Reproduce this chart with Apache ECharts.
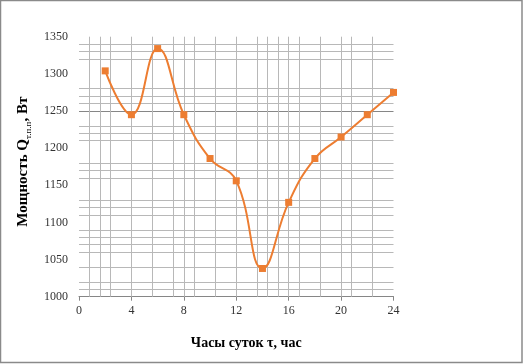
<!DOCTYPE html>
<html>
<head>
<meta charset="utf-8">
<script src="https://cdn.jsdelivr.net/npm/echarts@6/dist/echarts.min.js"></script>
<style>
html,body{margin:0;padding:0;background:#fff;}
#c{width:524px;height:364px;}
</style>
</head>
<body>
<div id="c"></div>
<script>
// Data
var hours = [2, 4, 6, 8, 10, 12, 14, 16, 18, 20, 22, 24];
var power = [1304, 1245, 1334, 1245, 1186, 1156, 1038, 1127, 1186, 1215, 1245, 1275];
// Minor gridlines as they appear in the picture
var hGrid = [1010, 1020, 1040, 1060, 1070, 1080, 1090, 1110, 1120, 1130, 1160, 1170, 1180,
             1210, 1220, 1230, 1260, 1270, 1280, 1320, 1330, 1340];
var hGridDark = [1250];
var vGrid = [0.8, 1.6, 2.4, 4, 5.6, 7.2, 8, 8.8, 10.4, 12, 13.6, 14.4, 15.2, 16, 16.8, 18.4,
             20, 20.8, 22.4];
var xTitle = 'Часы суток τ, час';

var chart = echarts.init(document.getElementById('c'), null, {renderer: 'canvas'});
var font = '"Liberation Serif", "Times New Roman", serif';

var gridLines = [];
hGrid.forEach(function (v) { gridLines.push({yAxis: v, lineStyle: {color: '#b8b8b8', width: 1, type: 'solid'}}); });
hGridDark.forEach(function (v) { gridLines.push({yAxis: v, lineStyle: {color: '#868686', width: 1, type: 'solid'}}); });
vGrid.forEach(function (v) { gridLines.push({xAxis: v, lineStyle: {color: '#b8b8b8', width: 1, type: 'solid'}}); });

chart.setOption({
  animation: false,
  backgroundColor: '#fff',
  grid: {left: 79, right: 130.5, top: 36.7, bottom: 67.3, containLabel: false},
  graphic: [{
    type: 'rect', silent: true, z: 100,
    shape: {x: 0.5, y: 0.5, width: 521.5, height: 362},
    style: {fill: 'none', stroke: '#8a8a8a', lineWidth: 1.5}
  }],
  xAxis: {
    type: 'value', min: 0, max: 24, interval: 4,
    name: xTitle, nameLocation: 'middle', nameGap: 40,
    nameTextStyle: {fontFamily: font, fontSize: 14, fontWeight: 'bold', color: '#000', padding: [0, 0, 0, 20]},
    axisLine: {show: true, lineStyle: {color: '#868686', width: 1}},
    axisTick: {show: true, length: 4, lineStyle: {color: '#868686'}},
    axisLabel: {fontFamily: font, fontSize: 12, color: '#333', margin: 8},
    splitLine: {show: false}
  },
  yAxis: {
    type: 'value', min: 1000, max: 1350, interval: 50,
    name: '{a|Мощность Q}{s|т.п.п}{a|, Вт}', nameLocation: 'middle', nameGap: 32,
    nameTextStyle: {
      padding: [0, 0, 0, 10],
      rich: {
        a: {fontFamily: font, fontSize: 15, fontWeight: 'bold', color: '#000', verticalAlign: 'middle'},
        s: {fontFamily: font, fontSize: 9, color: '#000', verticalAlign: 'bottom', lineHeight: 20}
      }
    },
    axisLine: {show: false},
    axisTick: {show: false},
    axisLabel: {fontFamily: font, fontSize: 12, color: '#333', margin: 11,
      formatter: function (v) { return String(v); }},
    splitLine: {show: false}
  },
  series: [{
    type: 'line',
    data: hours.map(function (h, i) { return [h, power[i]]; }),
    smooth: 0.45,
    symbol: 'rect', symbolSize: 7,
    itemStyle: {color: '#ED7D31'},
    lineStyle: {color: '#ED7D31', width: 2},
    z: 5,
    markLine: {
      silent: true, symbol: ['none', 'none'], label: {show: false},
      z: 1, animation: false,
      data: gridLines
    }
  }]
});
</script>
</body>
</html>
